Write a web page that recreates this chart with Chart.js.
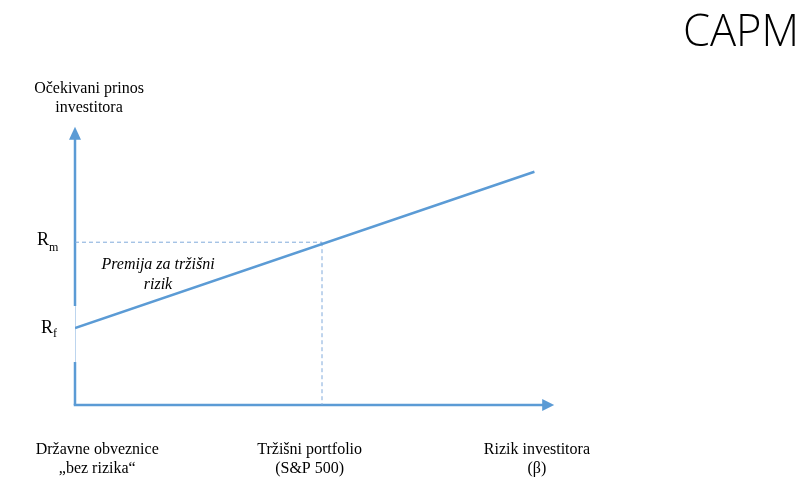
<!DOCTYPE html>
<html>
<head>
<meta charset="utf-8">
<script src="https://cdn.jsdelivr.net/npm/chart.js@4.4.1/dist/chart.umd.min.js"></script>
<style>
  html, body { margin: 0; padding: 0; background: #fff; }
  #wrap { width: 809px; height: 491px; }
</style>
</head>
<body>
<div id="wrap"><canvas id="capmChart" width="809" height="491"></canvas></div>
<script>
// Security market line
const smlBeta = [0, 1.86];
const smlReturn = [3, 9.1];

// Risk free rate and market point
const riskFree = 3;
const marketBeta = 1;
const marketReturn = 6.35;

// Axis ends (arrow tips)
const xAxisEnd = 1.94;
const yAxisEnd = 10.85;

// Text labels
const yAxisTitle = ["Očekivani prinos", "investitora"];
const premiumLabel = ["Premija za tržišni", "rizik"];
const bottomLabels = [
    { beta: 0.09, lines: ["Državne obveznice", "„bez rizika“"] },
    { beta: 0.95, lines: ["Tržišni portfolio", "(S&P 500)"] },
    { beta: 1.87, lines: ["Rizik investitora", "(β)"] },
];

const blue = "#5b9bd5";
const serif = "'Liberation Serif', 'DejaVu Serif', serif";

// Axes with arrows, drawn under the datasets
const axesPlugin = {
    id: "axesArrows",
    beforeDatasetsDraw(chart) {
        const { ctx, scales } = chart;
        const x0 = scales.x.getPixelForValue(0);
        const y0 = scales.y.getPixelForValue(0);
        const xTip = scales.x.getPixelForValue(xAxisEnd);
        const yTip = scales.y.getPixelForValue(yAxisEnd);
        const yRf = scales.y.getPixelForValue(riskFree);
        ctx.save();
        ctx.strokeStyle = blue;
        ctx.fillStyle = blue;
        ctx.lineWidth = 2.5;
        // x axis
        ctx.beginPath();
        ctx.moveTo(x0 - 1.25, y0);
        ctx.lineTo(xTip - 10, y0);
        ctx.stroke();
        ctx.beginPath();
        ctx.moveTo(xTip, y0);
        ctx.lineTo(xTip - 12, y0 - 6);
        ctx.lineTo(xTip - 12, y0 + 6);
        ctx.closePath();
        ctx.fill();
        // y axis, thin and light around Rf
        ctx.beginPath();
        ctx.moveTo(x0, y0);
        ctx.lineTo(x0, yRf + 34);
        ctx.moveTo(x0, yRf - 22);
        ctx.lineTo(x0, yTip + 10);
        ctx.stroke();
        ctx.beginPath();
        ctx.lineWidth = 1;
        ctx.strokeStyle = "#bdd5ee";
        ctx.moveTo(x0 + 0.5, yRf + 34);
        ctx.lineTo(x0 + 0.5, yRf - 22);
        ctx.stroke();
        ctx.beginPath();
        ctx.moveTo(x0, yTip);
        ctx.lineTo(x0 - 6, yTip + 13);
        ctx.lineTo(x0 + 6, yTip + 13);
        ctx.closePath();
        ctx.fill();
        ctx.restore();
    },
    afterDraw(chart) {
        const { ctx, scales } = chart;
        const x0 = scales.x.getPixelForValue(0);
        const y0 = scales.y.getPixelForValue(0);
        ctx.save();
        ctx.fillStyle = "#000";
        ctx.textBaseline = "alphabetic";

        // title
        ctx.font = "300 43.5px 'Open Sans', sans-serif";
        ctx.textAlign = "left";
        ctx.fillText("CAPM", 683, 46);

        // y axis title
        ctx.font = "16px " + serif;
        ctx.textAlign = "center";
        ctx.fillText(yAxisTitle[0], x0 + 14, 93);
        ctx.fillText(yAxisTitle[1], x0 + 14, 112);

        // Rm and Rf
        const yRm = scales.y.getPixelForValue(marketReturn);
        const yRf = scales.y.getPixelForValue(riskFree);
        ctx.textAlign = "left";
        ctx.font = "18px " + serif;
        ctx.fillText("R", 37, yRm + 3);
        ctx.fillText("R", 41, yRf + 5);
        ctx.font = "12px " + serif;
        ctx.fillText("m", 49, yRm + 9);
        ctx.fillText("f", 53, yRf + 9);

        // market risk premium
        ctx.font = "italic 16px " + serif;
        ctx.textAlign = "center";
        ctx.fillText(premiumLabel[0], x0 + 83, yRm + 27);
        ctx.fillText(premiumLabel[1], x0 + 83, yRm + 47);

        // bottom labels
        ctx.font = "16px " + serif;
        bottomLabels.forEach((lab) => {
            const x = scales.x.getPixelForValue(lab.beta);
            ctx.fillText(lab.lines[0], x, y0 + 49);
            ctx.fillText(lab.lines[1], x, y0 + 68);
        });
        ctx.restore();
    },
};

new Chart(document.getElementById("capmChart"), {
    type: "scatter",
    data: {
        datasets: [
            {
                label: "SML",
                data: smlBeta.map((b, i) => ({ x: b, y: smlReturn[i] })),
                showLine: true,
                borderColor: blue,
                borderWidth: 2.5,
                pointRadius: 0,
                order: 1,
            },
            {
                label: "Rm",
                data: [{ x: 0, y: marketReturn }, { x: marketBeta, y: marketReturn }],
                showLine: true,
                borderColor: "#80aadb",
                borderWidth: 1,
                borderDash: [4, 3],
                pointRadius: 0,
                order: 2,
            },
            {
                label: "beta",
                data: [{ x: marketBeta, y: marketReturn }, { x: marketBeta, y: 0 }],
                showLine: true,
                borderColor: "#80aadb",
                borderWidth: 1,
                borderDash: [4, 3],
                pointRadius: 0,
                order: 2,
            },
        ],
    },
    options: {
        responsive: false,
        animation: false,
        layout: { padding: { left: 75, right: 240, top: 123, bottom: 86 } },
        plugins: { legend: { display: false }, tooltip: { enabled: false } },
        scales: {
            x: { type: "linear", min: 0, max: 2, display: false },
            y: { type: "linear", min: 0, max: 11, display: false },
        },
    },
    plugins: [axesPlugin],
});
</script>
</body>
</html>
